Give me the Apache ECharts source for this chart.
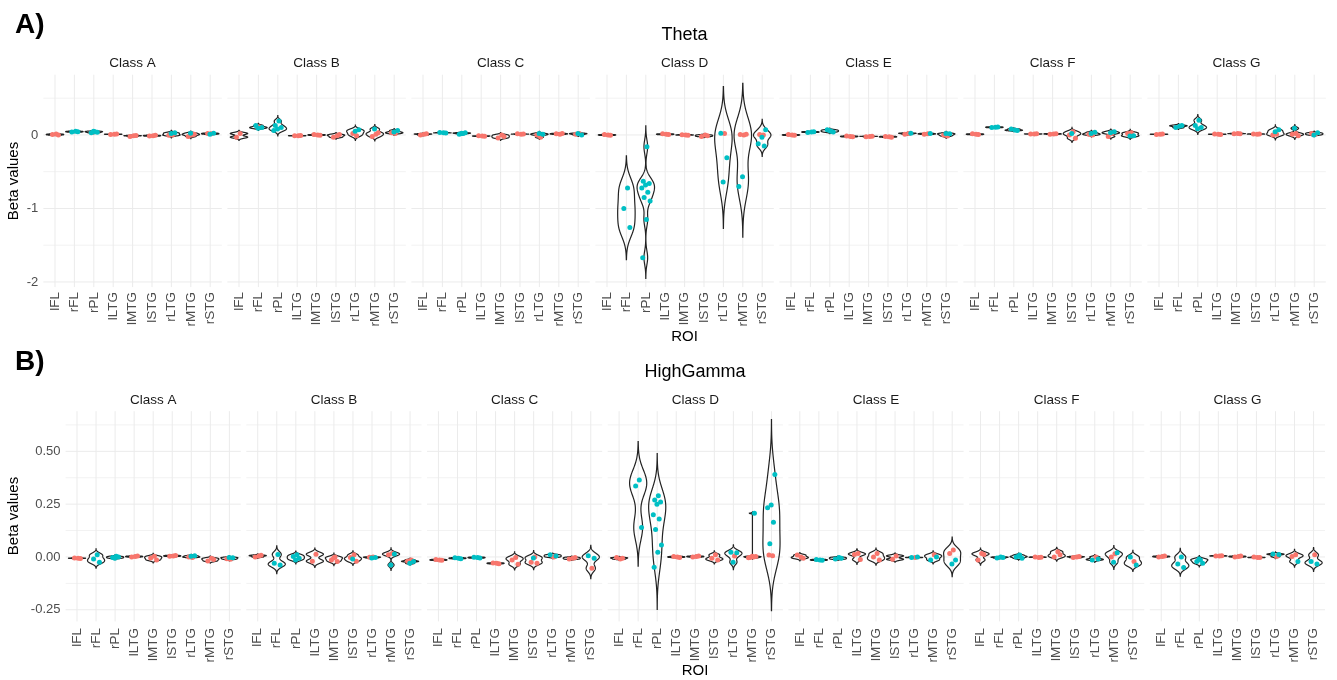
<!DOCTYPE html>
<html><head><meta charset="utf-8">
<script src="https://cdn.jsdelivr.net/npm/echarts@6/dist/echarts.min.js"></script>
<style>html,body{margin:0;padding:0;background:#fff}#c{width:1337px;height:680px}</style>
</head><body><div id="c"></div>
<script>
// ---------------- DATA ----------------
const rois = ['lFL','rFL','rPL','lLTG','lMTG','lSTG','rLTG','rMTG','rSTG'];
const classes = ['Class A','Class B','Class C','Class D','Class E','Class F','Class G'];
const thetaTicks = [-2, -1, 0];
const gammaTicks = [-0.25, 0, 0.25, 0.5];
// each ROI: [red group values, teal group values]
const thetaA = [[[0.012,0.006,0.0],[]],[[],[0.05,0.04,0.045]],[[],[0.045,0.03,0.038,0.05]],[[0.01,0.008,0.012],[]],[[-0.012,-0.02,-0.008],[]],[[-0.01,-0.015,-0.005],[]],[[0.0,-0.005],[0.03,0.02]],[[0.0,-0.02,0.01],[0.025]],[[0.015,0.02],[0.025,0.01]]];
const thetaB = [[[0.02,-0.03],[]],[[0.11],[0.13,0.1,0.09]],[[],[0.19,0.13,0.1,0.08,0.06]],[[-0.01,-0.012,-0.008],[]],[[0.0,0.005,-0.005],[]],[[-0.01,-0.03,0.005],[]],[[-0.01,0.02],[0.07,0.05]],[[0.01,-0.02,0.03],[0.08]],[[0.02,0.03],[0.06,0.04]]];
const thetaC = [[[0.01,0.0,0.015],[]],[[],[0.03,0.035,0.028]],[[],[0.02,0.01,0.03,0.025]],[[-0.015,-0.012,-0.018],[]],[[0.0,-0.04,-0.02],[]],[[0.01,0.015,0.012],[]],[[-0.03,0.0],[0.01,0.02]],[[0.01,0.015,0.02],[]],[[0.02,0.01],[0.0,0.02]]];
const thetaD = [[[0.0,0.005,-0.005],[]],[[],[-0.72,-1.0,-1.26]],[[],[-0.16,-0.63,-0.66,-0.68,-0.72,-0.78,-0.85,-0.9,-1.15,-1.67]],[[0.01,0.015,0.005],[]],[[0.0,0.003,-0.003],[]],[[0.0,-0.02,-0.01],[]],[[0.02],[0.025,-0.31,-0.64]],[[0.0,0.005,0.01],[-0.57,-0.70]],[[0.0,0.005],[0.07,-0.03,-0.12,-0.15]]];
const thetaE = [[[0.0,0.005,-0.005],[]],[[],[0.04,0.035,0.045]],[[],[0.05,0.07,0.04,0.06]],[[-0.02,-0.015,-0.025],[]],[[-0.02,-0.025,-0.018],[]],[[-0.025,-0.02,-0.03],[]],[[0.02,0.01],[0.025]],[[0.015,0.01],[0.02]],[[-0.015,0.0],[0.015,0.02]]];
const thetaF = [[[0.01,0.015,0.005],[]],[[],[0.105,0.1,0.11]],[[],[0.068,0.08,0.06]],[[0.014,0.012,0.016],[]],[[0.014,0.01,0.018],[]],[[0.045,0.0,-0.045],[0.02]],[[0.0,0.01],[0.036,0.02]],[[0.02,-0.02],[0.045,0.03]],[[0.03,0.02],[-0.01,-0.015]]];
const thetaG = [[[0.01,0.008,0.012],[]],[[],[0.12,0.1,0.13]],[[],[0.2,0.13,0.1,0.085]],[[0.01,0.012,0.008],[]],[[0.02,0.015,0.018],[]],[[0.01,0.012,0.014],[]],[[0.01,0.0],[0.07,0.045]],[[0.02,0.01,-0.01],[0.09]],[[0.01,0.02],[0.03,0.0]]];
const gammaA = [[[-0.006,-0.005,-0.007],[]],[[],[0.01,-0.01,-0.025]],[[],[0.003,-0.003,0.0,-0.006]],[[0.002,0.0,0.004],[]],[[0.003,-0.005,-0.014],[]],[[0.005,0.003,0.007],[]],[[-0.002,0.0],[0.006,0.003]],[[-0.006,-0.019,-0.012],[]],[[-0.011,-0.008],[-0.004,-0.002]]];
const gammaB = [[[0.005,0.0,0.008],[]],[[],[0.012,-0.03,-0.038]],[[],[0.01,0.002,-0.006,-0.014]],[[0.013,-0.02],[]],[[0.0,-0.014,-0.022,-0.005],[]],[[0.01,-0.003,-0.02],[-0.01]],[[0.0,-0.001],[-0.003,-0.005]],[[0.017,0.01],[0.014,-0.038]],[[-0.014,-0.02],[-0.022,-0.03]]];
const gammaC = [[[-0.014,-0.012,-0.016],[]],[[],[-0.006,-0.004,-0.008]],[[],[-0.003,-0.001,-0.005]],[[-0.03,-0.028,-0.032],[]],[[-0.002,-0.014,-0.035],[]],[[0.0,-0.025,-0.03],[-0.005]],[[0.0],[0.01,0.005]],[[-0.006,-0.01,-0.002],[]],[[-0.054],[0.006,-0.006]]];
const gammaD = [[[-0.01,-0.003,-0.006],[]],[[],[0.364,0.336,0.139]],[[],[0.29,0.27,0.26,0.25,0.2,0.18,0.13,0.057,0.022,-0.049]],[[0.0,0.002,-0.002],[]],[[0.002,0.0,0.004],[]],[[0.01,-0.006,-0.014],[]],[[0.005],[0.022,0.02,-0.025]],[[0.0,-0.002,0.002,0.003,-0.004],[0.207]],[[0.006,0.009],[0.39,0.246,0.233,0.164,0.062]]];
const gammaE = [[[0.0,0.009,-0.006],[]],[[],[-0.014,-0.012,-0.016]],[[],[-0.002,-0.01,-0.006]],[[0.016,0.012,-0.012],[]],[[0.017,0.0,-0.014],[]],[[0.005,-0.011],[]],[[-0.003],[-0.002,0.0]],[[0.01],[-0.014,0.0]],[[0.033,0.017],[-0.014,-0.033]]];
const gammaF = [[[0.017,-0.014,0.012],[]],[[],[0.0,-0.005,-0.002]],[[],[0.009,0.0,-0.006,0.003]],[[-0.002,0.0,-0.001],[]],[[0.025,0.0,0.01],[]],[[0.0,-0.003,0.002],[]],[[0.0],[-0.014,-0.01]],[[0.015,0.0],[0.02,-0.025]],[[-0.022],[0.0,-0.038]]];
const gammaG = [[[0.002,0.0,0.004],[]],[[],[0.0,-0.033,-0.05]],[[],[-0.014,-0.022,-0.03,-0.01]],[[0.005,0.004,0.006],[]],[[0.002,0.0,0.004],[]],[[-0.002,0.0,-0.003],[]],[[0.002],[0.014,0.012]],[[0.01,0.002],[-0.022]],[[0.01],[-0.022,-0.033]]];
const thetaClasses = [thetaA, thetaB, thetaC, thetaD, thetaE, thetaF, thetaG];
const gammaClasses = [gammaA, gammaB, gammaC, gammaD, gammaE, gammaF, gammaG];

// ---------------- HELPERS ----------------
const FONT = "'Liberation Sans', Arial, Helvetica, sans-serif";
const COLORS = ['#F8766D', '#00BFC4'];
function q7(s, p) { const h = (s.length - 1) * p, l = Math.floor(h), u = Math.min(l + 1, s.length - 1); return s[l] + (h - l) * (s[u] - s[l]); }
function bwNrd0(x) {
  const n = x.length, m = x.reduce((a, b) => a + b, 0) / n;
  const sd = Math.sqrt(x.reduce((a, b) => a + (b - m) * (b - m), 0) / (n - 1));
  const s = [...x].sort((a, b) => a - b);
  const iqr = q7(s, 0.75) - q7(s, 0.25);
  let lo = Math.min(sd, iqr / 1.34);
  if (!(lo > 0)) lo = sd || Math.abs(x[0]) || 1;
  return 0.9 * lo * Math.pow(n, -0.2);
}
// gaussian KDE, untrimmed (cut = 3 bw), scaled to width 0.9
function violinProfile(x) {
  const h = bwNrd0(x);
  const a = Math.min(...x) - 3 * h, b = Math.max(...x) + 3 * h, N = 240;
  const out = []; let dm = 0;
  for (let i = 0; i < N; i++) {
    const y = a + (b - a) * i / (N - 1); let d = 0;
    for (const v of x) { const z = (y - v) / h; d += Math.exp(-0.5 * z * z); }
    out.push([y, d]); if (d > dm) dm = d;
  }
  return out.map(p => [p[0], 0.45 * p[1] / dm]);
}

const grids = [], xAxes = [], yAxes = [], series = [], graphics = [];
function txt(text, x, y, size, o) {
  o = o || {};
  graphics.push({ type: 'text', x: x, y: y, rotation: o.rot || 0, silent: true, z: 10,
    style: { text: text, fill: o.color || '#000', font: (o.bold ? 'bold ' : '') + size + 'px ' + FONT,
      textAlign: o.align || 'center', textVerticalAlign: 'middle' } });
}

function addPanel(gi, rect, yr, ticks, fmt, hMajor, hMinor, classData, first, labMargin) {
  grids.push({ left: rect[0], top: rect[1], width: rect[2], height: rect[3] });
  xAxes.push({ type: 'category', gridIndex: gi, data: rois, boundaryGap: true,
    axisLine: { show: false }, axisTick: { show: false }, splitLine: { show: false },
    axisLabel: { interval: 0, rotate: 90, fontSize: 13.5, color: '#4d4d4d', margin: labMargin, fontFamily: FONT } });
  yAxes.push({ type: 'value', gridIndex: gi, min: yr[0], max: yr[1],
    axisLine: { show: false }, axisTick: { show: false }, splitLine: { show: false },
    axisLabel: { show: first, customValues: ticks, formatter: fmt, fontSize: 13, color: '#4d4d4d', margin: 7, fontFamily: FONT } });
  // grid lines
  series.push({ type: 'custom', xAxisIndex: gi, yAxisIndex: gi, silent: true, z: 1, data: [[0, 0]],
    renderItem: function (params, api) {
      const cs = params.coordSys, band = api.size([1, 0])[0], ext = 0.1 * band, ch = [];
      hMinor.forEach(v => { const y = api.coord([0, v])[1];
        ch.push({ type: 'line', shape: { x1: cs.x - ext, y1: y, x2: cs.x + cs.width + ext, y2: y }, style: { stroke: '#f2f2f2', lineWidth: 1 } }); });
      hMajor.forEach(v => { const y = api.coord([0, v])[1];
        ch.push({ type: 'line', shape: { x1: cs.x - ext, y1: y, x2: cs.x + cs.width + ext, y2: y }, style: { stroke: '#ebebeb', lineWidth: 1 } }); });
      for (let k = 0; k < rois.length; k++) { const x = api.coord([k, 0])[0];
        ch.push({ type: 'line', shape: { x1: x, y1: cs.y, x2: x, y2: cs.y + cs.height }, style: { stroke: '#ebebeb', lineWidth: 1 } }); }
      return { type: 'group', children: ch };
    } });
  // violins
  const profiles = classData.map(g => violinProfile(g[0].concat(g[1])));
  series.push({ type: 'custom', xAxisIndex: gi, yAxisIndex: gi, silent: true, z: 2,
    data: classData.map((g, k) => [k, g[0].concat(g[1])[0]]),
    renderItem: function (params, api) {
      const k = params.dataIndex, prof = profiles[k], band = api.size([1, 0])[0];
      const cx = api.coord([k, 0])[0], left = [], right = [];
      prof.forEach(p => { const y = api.coord([k, p[0]])[1]; left.push([cx - p[1] * band, y]); right.push([cx + p[1] * band, y]); });
      return { type: 'polygon', shape: { points: left.concat(right.reverse()) }, style: { fill: 'none', stroke: '#222222', lineWidth: 1.2 } };
    } });
  // jittered points
  const pts = [];
  classData.forEach((g, k) => { let j = 0;
    g.forEach((vals, c) => vals.forEach(v => { j++; pts.push([k, v, c, (((j * 0.618034) % 1) - 0.5) * 0.5]); })); });
  series.push({ type: 'custom', xAxisIndex: gi, yAxisIndex: gi, silent: true, z: 3, data: pts,
    encode: { x: 0, y: 1 },
    renderItem: function (params, api) {
      const band = api.size([1, 0])[0], p = api.coord([api.value(0), api.value(1)]);
      return { type: 'circle', shape: { cx: p[0] + api.value(3) * band, cy: p[1], r: 2.5 }, style: { fill: COLORS[api.value(2)] } };
    } });
}

// ---------------- LAYOUT ----------------
for (let i = 0; i < 7; i++) {
  addPanel(i, [45.3 + 184 * i, 74.7, 174.6, 212.4], [-2.07, 0.82], thetaTicks, v => String(v),
    [-2, -1, 0], [-1.5, -0.5, 0.5], thetaClasses[i], i === 0, 5);
  txt(classes[i], 132.6 + 184 * i, 63, 13.5, { color: '#1a1a1a' });
}
for (let i = 0; i < 7; i++) {
  addPanel(7 + i, [67.5 + 180.7 * i, 411.2, 171.4, 210.2], [-0.305, 0.69], gammaTicks, v => v.toFixed(2),
    [-0.25, 0, 0.25, 0.5], [-0.125, 0.125, 0.375, 0.625], gammaClasses[i], i === 0, 6.5);
  txt(classes[i], 153.2 + 180.7 * i, 400, 13.5, { color: '#1a1a1a' });
}
txt('A)', 15, 25, 28, { bold: true, align: 'left' });
txt('B)', 15, 362, 28, { bold: true, align: 'left' });
txt('Theta', 684.6, 35.5, 18);
txt('HighGamma', 695, 372.5, 18);
txt('ROI', 684.6, 337, 15);
txt('ROI', 695, 671, 15);
txt('Beta values', 14, 181, 15, { rot: Math.PI / 2 });
txt('Beta values', 14, 516, 15, { rot: Math.PI / 2 });

const chart = echarts.init(document.getElementById('c'), null, { renderer: 'canvas' });
chart.setOption({ animation: false, backgroundColor: '#ffffff', grid: grids, xAxis: xAxes, yAxis: yAxes, series: series, graphic: graphics });
</script></body></html>
